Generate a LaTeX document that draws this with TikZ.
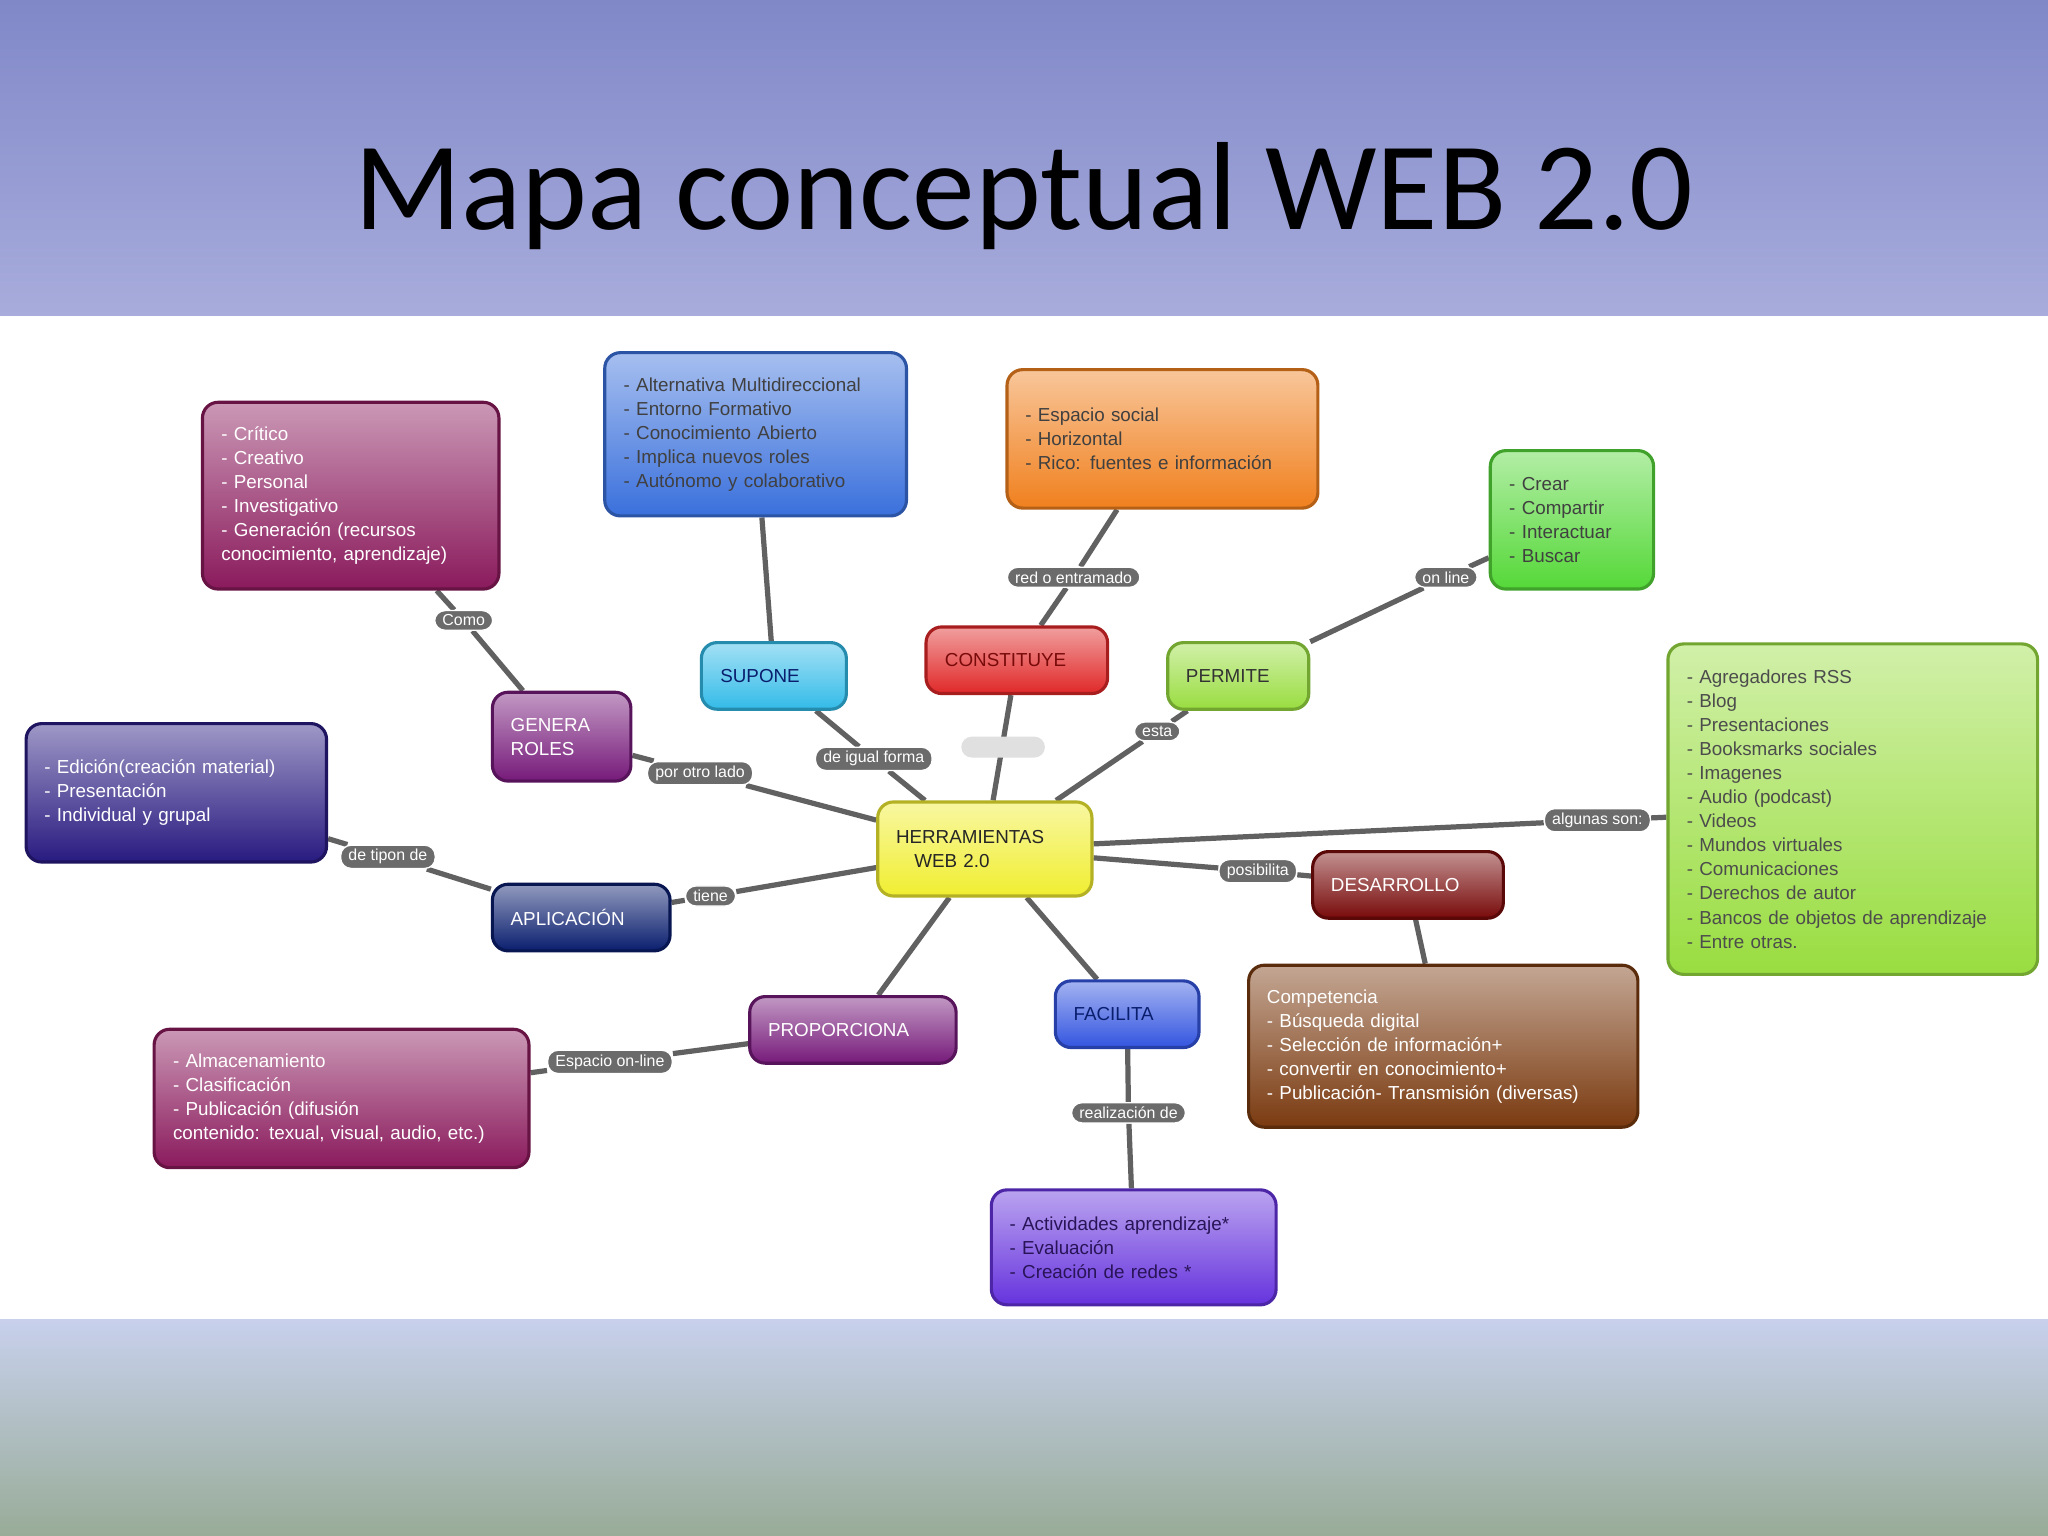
\documentclass[tikz,border=0pt]{standalone}
\usepackage{fontspec}
\setmainfont{Liberation Sans}
\newfontfamily\titlefont{Carlito}
\definecolor{cmag}{HTML}{8A1A5C}
\definecolor{cblue}{HTML}{3A70DC}
\definecolor{corange}{HTML}{F0801E}
\definecolor{cgreen}{HTML}{55D838}
\definecolor{clime}{HTML}{99DD40}
\definecolor{cindigo}{HTML}{281A80}
\definecolor{cviolet}{HTML}{761A7A}
\definecolor{ccyan}{HTML}{33BBE8}
\definecolor{cred}{HTML}{E02828}
\definecolor{cyel}{HTML}{F0EE30}
\definecolor{cnavy}{HTML}{0A1E6E}
\definecolor{cdred}{HTML}{780A0A}
\definecolor{cfac}{HTML}{3355E0}
\definecolor{cbrown}{HTML}{7A3A10}
\definecolor{cpurp}{HTML}{6633DD}
\definecolor{topband}{HTML}{8088C8}
\definecolor{topband2}{HTML}{A8ACDC}
\definecolor{botband}{HTML}{C8D0EC}
\definecolor{botband2}{HTML}{98AC98}
\pgfdeclarelayer{bg}\pgfdeclarelayer{lines}
\pgfsetlayers{bg,lines,main}
\tikzset{
 box/.style 2 args={rounded corners=6pt, top color=#1!45!white, bottom color=#1, draw=#1!75!black, line width=1.2pt,
   text=#2, font=\fontsize{7.2}{9.2}\selectfont, align=left, inner xsep=7pt, inner ysep=0pt},
 pill/.style={fill=black!58, draw=white, line width=0.5pt, rounded corners=4pt, text=white,
   font=\fontsize{6.1}{7}\selectfont, inner xsep=3pt, inner ysep=1.6pt},
 conn/.style={draw=black!62, line width=2pt}
}
\begin{document}
\begin{tikzpicture}[x=0.5pt,y=-0.5pt]
\useasboundingbox (0,0) rectangle (1568,1176);
\begin{pgfonlayer}{bg}
\shade[top color=topband, bottom color=topband2] (0,0) rectangle (1568,242);
\fill[white] (0,242) rectangle (1568,1010);
\shade[top color=botband, bottom color=botband2] (0,1010) rectangle (1568,1176);
\end{pgfonlayer}
\node[font=\titlefont\fontsize{48}{54}\selectfont] (title) at (784,150) {Mapa conceptual WEB 2.0};

\node[box={cmag}{white}, minimum width=113.5pt, minimum height=71.5pt, text width=99pt] (crit) at (268.5,379.5)
 {- Crítico\\- Creativo\\- Personal\\- Investigativo\\- Generación (recursos\\conocimiento, aprendizaje)};
\node[box={cblue}{black!75}, minimum width=115.5pt, minimum height=62.5pt, text width=101pt] (alt) at (578.5,332.5)
 {- Alternativa Multidireccional\\- Entorno Formativo\\- Conocimiento Abierto\\- Implica nuevos roles\\- Autónomo y colaborativo};
\node[box={corange}{black!75}, minimum width=119pt, minimum height=53pt, text width=105pt] (esp) at (890,336)
 {- Espacio social\\- Horizontal\\- Rico: fuentes e información\\[6pt]};
\node[box={cgreen}{black!75}, minimum width=62.5pt, minimum height=53pt, text width=48pt] (crear) at (1203.5,398)
 {- Crear\\- Compartir\\- Interactuar\\- Buscar};
\node[box={clime}{black!70}, minimum width=141.5pt, minimum height=126.5pt, text width=127pt] (agr) at (1418.5,619.5)
 {- Agregadores RSS\\- Blog\\- Presentaciones\\- Booksmarks sociales\\- Imagenes\\- Audio (podcast)\\- Videos\\- Mundos virtuales\\- Comunicaciones\\- Derechos de autor\\- Bancos de objetos de aprendizaje\\- Entre otras.};
\node[box={cindigo}{white}, minimum width=115pt, minimum height=53pt, text width=101pt] (edi) at (135,607)
 {- Edición(creación material)\\- Presentación\\- Individual y grupal\\[6pt]};
\node[box={cviolet}{white}, minimum width=53pt, minimum height=34pt, text width=39pt] (gen) at (430,564)
 {GENERA\\ROLES};
\node[box={ccyan}{cnavy}, minimum width=55.5pt, minimum height=25.5pt, text width=41pt] (sup) at (592.5,517.5) {SUPONE};
\node[box={cred}{cdred}, minimum width=69.5pt, minimum height=25.5pt, text width=55pt] (con) at (778.5,505.5) {CONSTITUYE};
\node[box={clime}{black!80}, minimum width=54pt, minimum height=25.5pt, text width=40pt] (per) at (948,517.5) {PERMITE};
\node[box={cyel}{black!85}, minimum width=82pt, minimum height=36pt, text width=68pt] (her) at (754,650)
 {HERRAMIENTAS\\\hspace*{7pt}WEB 2.0};
\node[box={cnavy}{white}, minimum width=68pt, minimum height=25.5pt, text width=54pt] (apl) at (445,702.5) {APLICACIÓN};
\node[box={cdred}{white}, minimum width=73pt, minimum height=25.5pt, text width=59pt] (des) at (1078,677.5) {DESARROLLO};
\node[box={cviolet}{white}, minimum width=79pt, minimum height=25.5pt, text width=65pt] (pro) at (653,788.5) {PROPORCIONA};
\node[box={cfac}{cnavy}, minimum width=55pt, minimum height=25.5pt, text width=41pt] (fac) at (863,776.5) {FACILITA};
\node[box={cmag}{white}, minimum width=143.5pt, minimum height=53pt, text width=129pt] (alm) at (261.5,841)
 {- Almacenamiento\\- Clasificación\\- Publicación (difusión\\contenido: texual, visual, audio, etc.)};
\node[box={cbrown}{white}, minimum width=149pt, minimum height=62pt, text width=135pt] (com) at (1105,801)
 {Competencia\\- Búsqueda digital\\- Selección de información+\\- convertir en conocimiento+\\- Publicación- Transmisión (diversas)};
\node[box={cpurp}{cpurp!40!black}, minimum width=109pt, minimum height=44pt, text width=95pt] (act) at (868,955)
 {- Actividades aprendizaje*\\- Evaluación\\- Creación de redes *};

\node[pill] (lcomo) at (355,475) {Como};
\node[pill] (lred) at (822,442) {red o entramado};
\node[pill] (lon) at (1107,442) {on line};
\node[pill] (lpor) at (536,592) {por otro lado};
\node[pill] (lig) at (669,581) {de igual forma};
\node[pill] (lest) at (886,560) {esta};
\node[pill] (ltip) at (297,656) {de tipon de};
\node[pill] (ltie) at (544,686) {tiene};
\node[pill] (lalg) at (1223,628) {algunas son:};
\node[pill] (lpos) at (963,667) {posibilita};
\node[pill] (lesp) at (467,813) {Espacio on-line};
\node[pill] (lrea) at (864,852) {realización de};
\node[fill=black!12, rounded corners=4pt, minimum width=32pt, minimum height=8pt] (blank) at (768,572) {};

\begin{pgfonlayer}{lines}
\draw[conn] (crit) -- (lcomo) -- (gen);
\draw[conn] (alt) -- (sup);
\draw[conn] (sup) -- (lig) -- (her);
\draw[conn] (esp) -- (lred) -- (con);
\draw[conn] (con) -- (her);
\draw[conn] (crear) -- (lon) -- (per);
\draw[conn] (per) -- (lest) -- (her);
\draw[conn] (gen) -- (lpor) -- (her);
\draw[conn] (edi) -- (ltip) -- (apl);
\draw[conn] (apl) -- (ltie) -- (her);
\draw[conn] (her) -- (lalg) -- (agr);
\draw[conn] (her) -- (lpos) -- (des);
\draw[conn] (des) -- (com);
\draw[conn] (her) -- (pro);
\draw[conn] (pro) -- (lesp) -- (alm);
\draw[conn] (her) -- (fac);
\draw[conn] (fac) -- (lrea) -- (act);
\end{pgfonlayer}
\end{tikzpicture}
\end{document}
